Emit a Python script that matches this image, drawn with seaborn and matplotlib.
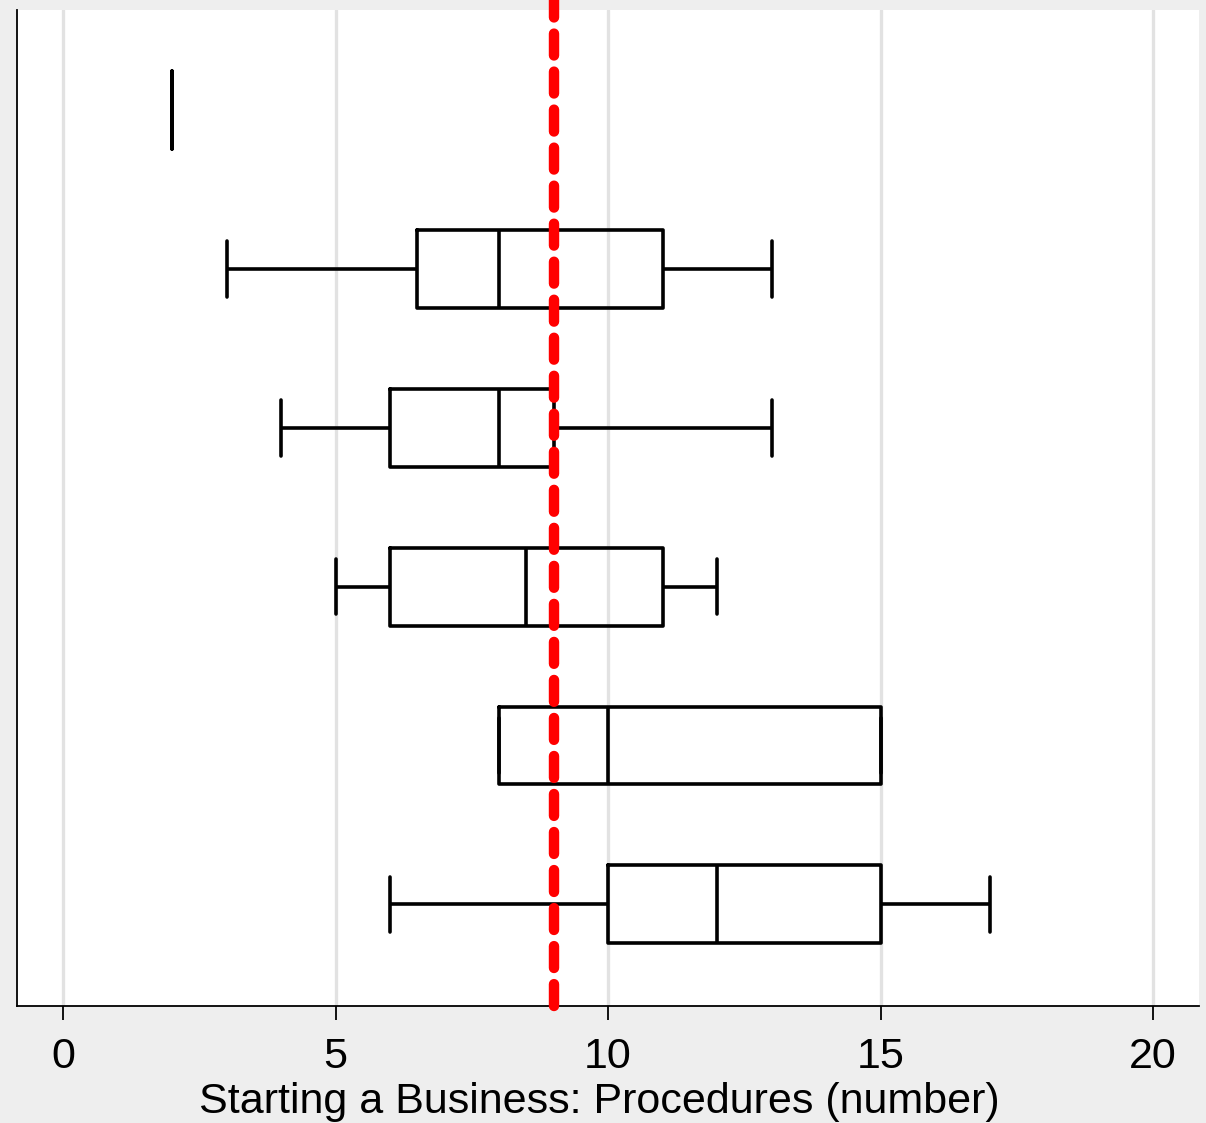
import numpy as np
import pandas as pd
import matplotlib
matplotlib.use("Agg")
import matplotlib.pyplot as plt
import seaborn as sns

# Five-number summaries per group: min, q1, median, q3, max
groups = ["G1", "G2", "G3", "G4", "G5", "G6"]
mins    = [2, 3,   4, 5,   8,  6]
q1s     = [2, 6.5, 6, 6,   8,  10]
medians = [2, 8,   8, 8.5, 10, 12]
q3s     = [2, 11,  9, 11,  15, 15]
maxs    = [2, 13, 13, 12,  15, 17]
ref_value = 9
xticks = [0, 5, 10, 15, 20]
xlabel = "Starting a Business: Procedures (number)"

rows = []
for g, a, b, c, d, e in zip(groups, mins, q1s, medians, q3s, maxs):
    for v in (a, b, c, d, e):
        rows.append({"group": g, "value": v})
df = pd.DataFrame(rows)

sns.set_style("white")
plt.rcParams["font.family"] = ["Liberation Sans", "DejaVu Sans"]

fig = plt.figure(figsize=(12.06, 11.23), dpi=100)
fig.patch.set_facecolor("#eeeeee")
ax = fig.add_axes([17/1206, (1123-1006)/1123, (1199-17)/1206, (1006-10)/1123])
ax.set_facecolor("white")

for t in xticks:
    ax.axvline(t, color="#e2e2e2", lw=2.4, zorder=0)

sns.boxplot(data=df, x="value", y="group", order=groups, orient="y",
            whis=(0, 100), width=0.49, fill=False, color="black",
            linecolor="black", linewidth=2.6, capwidths=0.35,
            showfliers=False, ax=ax)

ax.axvline(ref_value, color="#ff0000", lw=7.5, linestyle=(0, (2.1, 1.55)),
           dash_capstyle="round", ymin=0, ymax=1.012, clip_on=False, zorder=5)

ax.set_xlim(-0.844, 20.84)
ax.set_ylim(5.64, -0.63)
ax.set_xticks(xticks)
ax.set_xticklabels([str(t) for t in xticks])
ax.set_yticks([])
ax.set_ylabel("")
ax.set_xlabel(xlabel, fontsize=31, labelpad=4, color="black")
ax.xaxis.label.set_x(0.493)
ax.tick_params(axis="x", bottom=True, length=10, width=1.3, color="black",
               labelsize=31, pad=12, labelcolor="black")
for s in ["top", "right"]:
    ax.spines[s].set_visible(False)
for s in ["left", "bottom"]:
    ax.spines[s].set_visible(True)
    ax.spines[s].set_color("black")
    ax.spines[s].set_linewidth(1.3)

fig.savefig("out.png", dpi=100, facecolor=fig.get_facecolor())
